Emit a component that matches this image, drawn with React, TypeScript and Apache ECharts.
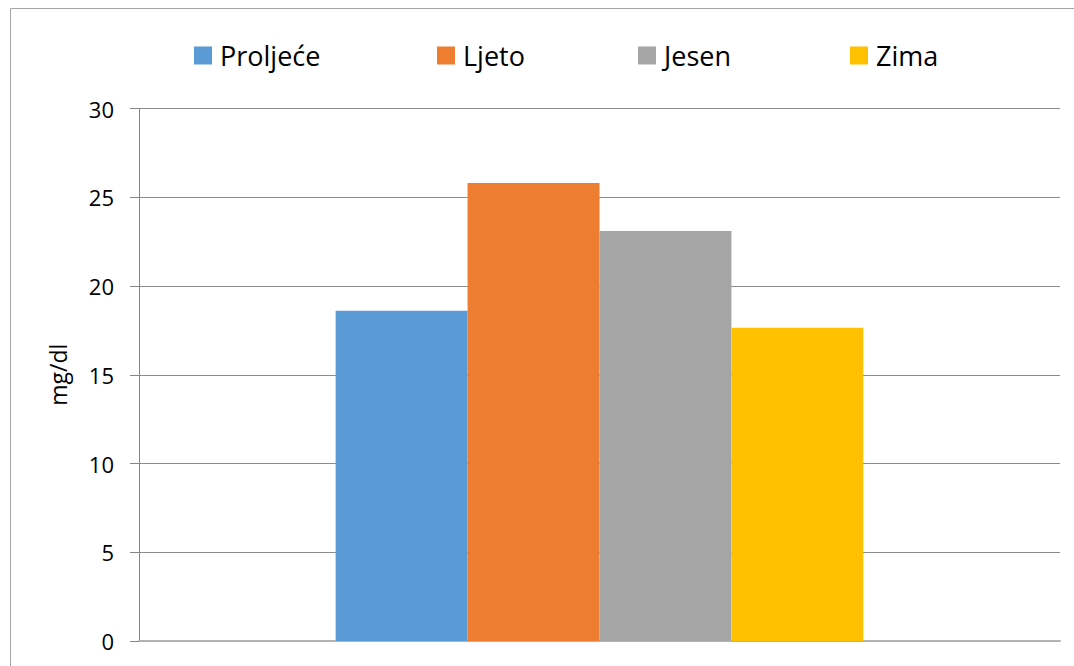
import React, { useEffect, useRef } from "react";
import * as echarts from "echarts";

const categories = ["Sezona"];
const seriesNames = ["Proljeće", "Ljeto", "Jesen", "Zima"];
const seriesValues = [18.6, 25.8, 23.1, 17.65];
const seriesColors = ["#5b9bd5", "#ed7d31", "#a5a5a5", "#ffc000"];
const yTicks = { min: 0, max: 30, interval: 5 };
const yAxisName = "mg/dl";

const FONT = "'Open Sans', 'Noto Sans', sans-serif";
const legendLefts = [194, 437, 638, 850];

export default function App() {
  const ref = useRef<HTMLDivElement>(null);
  useEffect(() => {
    document.body.style.margin = "0";
    const chart = echarts.init(ref.current!, null, { renderer: "svg" });
    chart.setOption({
      animation: false,
      backgroundColor: "#ffffff",
      textStyle: { fontFamily: FONT },
      graphic: [
        {
          type: "rect",
          shape: { x: 10.5, y: 8.5, width: 1200, height: 800 },
          style: { fill: "none", stroke: "#a6a6a6", lineWidth: 1 },
          z: -10,
        },
      ],
      legend: seriesNames.map((name, i) => ({
        data: [name],
        left: legendLefts[i],
        top: 42,
        padding: 0,
        itemWidth: 18,
        itemHeight: 18,
        icon: "rect",
        textStyle: { fontSize: 27, color: "#000000", fontFamily: FONT, padding: [0, 0, 0, 3] },
      })),
      grid: { left: 139, right: 14, top: 108.5, bottom: 25, containLabel: false },
      xAxis: {
        type: "category",
        data: categories,
        axisLine: { show: true, lineStyle: { color: "#b3b3b3", width: 2 } },
        axisTick: { show: false },
        axisLabel: { show: false },
      },
      yAxis: {
        type: "value",
        min: yTicks.min,
        max: yTicks.max,
        interval: yTicks.interval,
        name: yAxisName,
        nameLocation: "middle",
        nameGap: 70,
        nameTextStyle: { fontSize: 23, color: "#000000", fontFamily: FONT },
        axisLine: { show: true, lineStyle: { color: "#868686", width: 1 } },
        axisTick: { show: true, length: 9, lineStyle: { color: "#868686" } },
        axisLabel: { fontSize: 22, color: "#000000", margin: 25, fontFamily: FONT },
        splitLine: { show: true, lineStyle: { color: "#8c8c8c", width: 1 } },
      },
      series: seriesNames.map((name, i) => ({
        name,
        type: "bar",
        data: [seriesValues[i]],
        itemStyle: { color: seriesColors[i] },
        barGap: "0%",
        barCategoryGap: "42.7%",
      })),
    });
    return () => chart.dispose();
  }, []);
  return (
    <div
      ref={ref}
      style={{ position: "fixed", left: 0, top: 0, width: 1074, height: 666 }}
    />
  );
}
